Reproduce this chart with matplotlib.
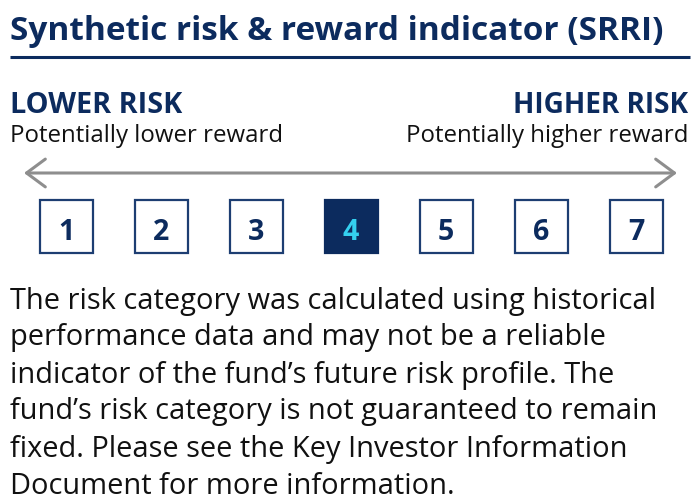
import matplotlib
matplotlib.use("Agg")
import matplotlib.pyplot as plt
from matplotlib.patches import Rectangle

# ---- data / text ----
title = "Synthetic risk & reward indicator (SRRI)"
risk_levels = [1, 2, 3, 4, 5, 6, 7]
current_level = 4
left_head = "LOWER RISK"
left_sub = "Potentially lower reward"
right_head = "HIGHER RISK"
right_sub = "Potentially higher reward"
paragraph = [
    "The risk category was calculated using historical",
    "performance data and may not be a reliable",
    "indicator of the fund\u2019s future risk profile. The",
    "fund\u2019s risk category is not guaranteed to remain",
    "fixed. Please see the Key Investor Information",
    "Document for more information.",
]

# ---- style ----
NAVY = "#0c2b5e"
BOX_EDGE = "#1d3e72"
CYAN = "#34d0f0"
GRAY = "#8e8e8e"
TEXT = "#111111"
HEAD_FONT = ["Open Sans", "DejaVu Sans"]
BODY_FONT = ["Open Sans", "DejaVu Sans"]

W, H = 695, 496
fig = plt.figure(figsize=(W / 100, H / 100), dpi=100)
ax = fig.add_axes([0, 0, 1, 1])
ax.set_xlim(0, W)
ax.set_ylim(H, 0)
ax.axis("off")
fig.canvas.draw()
renderer = fig.canvas.get_renderer()


def fit_text(x, y, s, target_w, size0=20, **kw):
    t = ax.text(x, y, s, fontsize=size0, **kw)
    w = t.get_window_extent(renderer).width
    t.set_fontsize(size0 * target_w / w)
    return t


# title + rule
fit_text(10, 39.5, title, 652, family=HEAD_FONT, fontweight="bold",
         color=NAVY, va="baseline", ha="left")
ax.plot([10, 690], [57, 57], color=NAVY, lw=2.2, solid_capstyle="butt")

# risk labels
fit_text(10, 113, left_head, 172, family=HEAD_FONT, fontweight="bold",
         color=NAVY, va="baseline", ha="left")
fit_text(10, 142, left_sub, 272, family=BODY_FONT, color=TEXT,
         va="baseline", ha="left")
fit_text(688, 113, right_head, 176, family=HEAD_FONT, fontweight="bold",
         color=NAVY, va="baseline", ha="right")
fit_text(688, 142, right_sub, 281, family=BODY_FONT, color=TEXT,
         va="baseline", ha="right")

# arrow
ax.annotate("", xy=(677, 173), xytext=(24, 173),
            arrowprops=dict(arrowstyle="<->,head_length=1.35,head_width=1.0",
                            lw=2.2, color=GRAY, shrinkA=0, shrinkB=0,
                            mutation_scale=10))

# boxes
x0, step, bw, bh, btop = 66, 95, 53, 53, 199.5
for i, lvl in enumerate(risk_levels):
    cx = x0 + i * step
    active = lvl == current_level
    ax.add_patch(Rectangle((cx - bw / 2, btop), bw, bh,
                           facecolor=NAVY if active else "white",
                           edgecolor=NAVY if active else BOX_EDGE, lw=1.6))
    ax.text(cx, 240, str(lvl), family=HEAD_FONT,
            fontweight="bold", fontsize=20.5,
            color=CYAN if active else NAVY, ha="center", va="baseline")

# paragraph
size = None
for k, line in enumerate(paragraph):
    y = 308.5 + 37.0 * k
    if k == 0:
        t = fit_text(10, y, line, 642, family=BODY_FONT, color=TEXT,
                     va="baseline", ha="left")
        size = t.get_fontsize()
    else:
        ax.text(10, y, line, family=BODY_FONT, color=TEXT, fontsize=size,
                va="baseline", ha="left")

fig.savefig("out.png", dpi=100)
